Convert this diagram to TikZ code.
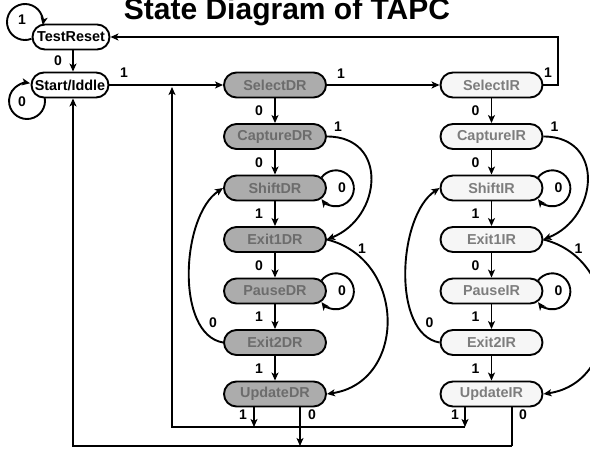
\documentclass[tikz,border=0pt]{standalone}
\usepackage{fontspec}
\setmainfont{Liberation Sans}
\usetikzlibrary{arrows.meta,calc}
\definecolor{drfill}{RGB}{172,172,172}
\definecolor{drtext}{RGB}{108,108,108}
\definecolor{irfill}{RGB}{246,246,246}
\definecolor{irtext}{RGB}{125,125,125}
\newcommand\myselfloop[1]{\draw[arr] ($(#1.center)+(46.5,10.5)$) arc[start angle=143,end angle=-143,radius=18];}
\begin{document}
\begin{tikzpicture}[x=1pt,y=1pt,
  state/.style={draw, line width=1.9pt, rounded corners=12.5pt, minimum width=102pt, minimum height=25pt, inner sep=0pt, font=\fontsize{14.4}{16}\selectfont\bfseries},
  topstate/.style={state, minimum width=77pt, fill=white},
  dr/.style={state, fill=drfill, text=drtext},
  ir/.style={state, fill=irfill, text=irtext},
  arr/.style={line width=1.9pt, -{Stealth[length=8pt,width=7pt,inset=2pt]}},
  ln/.style={line width=1.9pt},
  lbl/.style={font=\fontsize{14}{16}\selectfont\bfseries, inner sep=0pt},
  ]
\useasboundingbox (0,0) rectangle (590,-449);
\node[anchor=base, font=\fontsize{30}{32}\selectfont\bfseries] (title) at (287,-20) {State Diagram of TAPC};
% states
\node[topstate] (tr) at (71,-37) {TestReset};
\node[topstate] (si) at (70,-85) {Start/Iddle};
\node[dr] (sdr)  at (275,-85)    {SelectDR};
\node[dr] (cdr)  at (275,-136.5) {CaptureDR};
\node[dr] (shdr) at (275,-188)   {ShiftDR};
\node[dr] (e1dr) at (275,-239.5) {Exit1DR};
\node[dr] (pdr)  at (275,-291)   {PauseDR};
\node[dr] (e2dr) at (275,-342.5) {Exit2DR};
\node[dr] (udr)  at (275,-394)   {UpdateDR};
\node[ir] (sir)  at (491.5,-85)    {SelectIR};
\node[ir] (cir)  at (491.5,-136.5) {CaptureIR};
\node[ir] (shir) at (491.5,-188)   {ShiftIR};
\node[ir] (e1ir) at (491.5,-239.5) {Exit1IR};
\node[ir] (pir)  at (491.5,-291)   {PauseIR};
\node[ir] (e2ir) at (491.5,-342.5) {Exit2IR};
\node[ir] (uir)  at (491.5,-394)   {UpdateIR};
% top part
\draw[arr] (25,-22) ++(-69:18) arc[start angle=-69,end angle=-370,radius=18];
\node[lbl] (l1) at (22,-20) {1};
\draw[arr] (27,-101) ++(11:18) arc[start angle=11,end angle=-280,radius=18];
\node[lbl] (l2) at (22,-102) {0};
\draw[arr] ([xshift=2pt]tr.south) -- node[lbl, xshift=-15pt]{0} ([xshift=2pt]tr.south |- si.north);
\draw[arr] (si.east) -- (sdr.west);
\node[lbl] (l3) at (124,-73) {1};
\draw[arr] (sdr.east) -- (sir.east -| sir.west);
\node[lbl] (l4) at (341,-74) {1};
\coordinate (t1) at (558,-85);
\draw[arr] (sir.east) -- (t1) |- (tr.east);
\node[lbl] (l5) at (548,-73) {1};
% columns
\foreach \c/\dx in {dr/0, ir/216.5}{
  \draw[arr] (s\c) -- node[lbl, xshift=-16pt]{0} (c\c);
  \draw[arr] (c\c) -- node[lbl, xshift=-16pt]{0} (sh\c);
  \draw[arr] (sh\c) -- node[lbl, xshift=-16pt]{1} (e1\c);
  \draw[arr] (e1\c) -- node[lbl, xshift=-16pt]{0} (p\c);
  \draw[arr] (p\c) -- node[lbl, xshift=-16pt]{1} (e2\c);
  \draw[arr] (e2\c) -- node[lbl, xshift=-16pt]{1} (u\c);
  \myselfloop{sh\c}
  \myselfloop{p\c}
  \node[lbl] at ($(sh\c.center)+(67,0)$) {0};
  \node[lbl] at ($(p\c.center)+(67,0)$) {0};
  \draw[arr] (c\c.east) .. controls +(62,0) and +(55,22) .. (e1\c.east);
  \node[lbl] at ($(c\c.center)+(63,10)$) {1};
  \draw[arr] (e1\c.east) .. controls +(80,-20) and +(80,12) .. (u\c.east);
  \node[lbl] at ($(e1\c.center)+(87,-9)$) {1};
  \draw[arr] (e2\c.west) .. controls +(-48,8) and +(-42,-28) .. (sh\c.west);
  \node[lbl] at ($(e2\c.center)+(-62,20)$) {0};
}
% return lines
\coordinate (a1) at (254,-427);
\coordinate (b1) at (465,-427);
\coordinate (jn) at (172,-87);
\coordinate (c1) at (300,-446);
\coordinate (c0) at (512,-446);
\coordinate (c2) at (73,-446);
\draw[arr] (udr.south -| a1) -- (a1);
\draw[arr] (uir.south -| b1) -- (b1);
\draw[arr] (b1) -| (jn);
\draw[arr] (udr.south -| c1) -- (c1);
\draw[ln] (uir.south -| c0) -- (c0);
\draw[arr] (c0) -- (c2) -- (c2 |- si.south);
\node[lbl] at (243,-415) {1};
\node[lbl] at (312,-415) {0};
\node[lbl] at (455,-415) {1};
\node[lbl] at (523,-415) {0};
\end{tikzpicture}
\end{document}
